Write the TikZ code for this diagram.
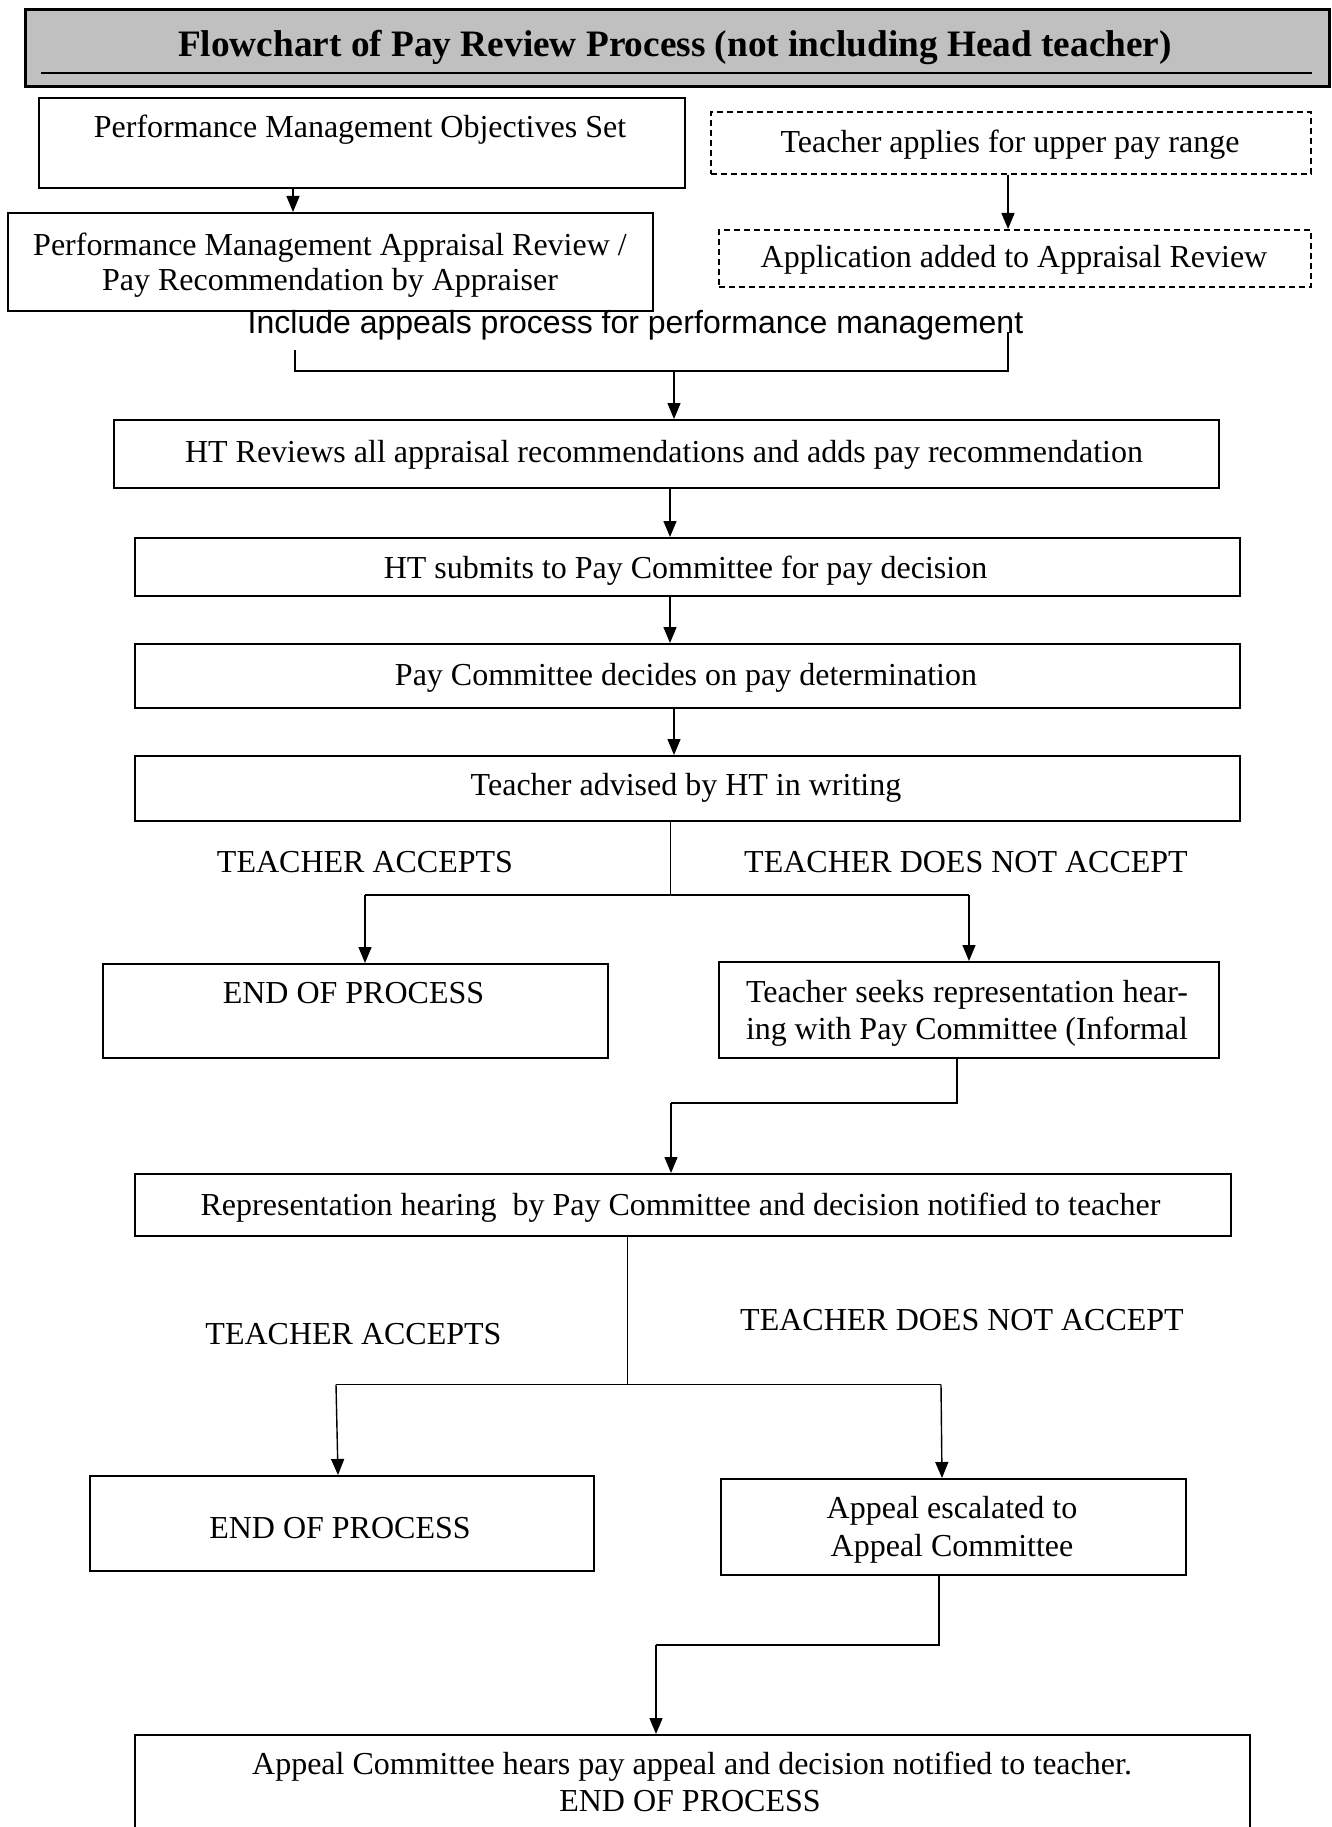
\documentclass[tikz,border=0pt]{standalone}
\usepackage{fontspec}
\setmainfont{Liberation Serif}
\newfontfamily\arialf{Liberation Sans}
\usetikzlibrary{arrows.meta}
\begin{document}
\begin{tikzpicture}[x=1pt,y=-1pt,
  box/.style={draw, line width=2.1pt, rectangle, inner sep=0pt, anchor=north west},
  dbox/.style={draw, line width=1.6pt, dash pattern=on 6pt off 4pt, rectangle, inner sep=0pt, anchor=north west},
  txt/.style={font=\fontsize{32}{36.5}\selectfont, inner sep=0pt, anchor=base},
  conn/.style={line width=1.4pt},
  arr/.style={line width=1.4pt, -{Triangle[length=16pt,width=13pt]}},
]
\useasboundingbox (0,0) rectangle (1332,1827);
\clip (0,0) rectangle (1332,1827);

% title
\node[box, line width=2.6pt, fill={rgb,255:red,192;green,192;blue,192}, minimum width=1304pt, minimum height=77pt] (title) at (24,8) {};
\draw[line width=2.6pt] (41,73) -- (1312,73);
\node[txt, font=\bfseries\fontsize{37.3}{44}\selectfont] (title-t) at (675,57) {Flowchart of Pay Review Process (not including Head teacher)};

% boxes
\node[box, minimum width=646pt, minimum height=90pt] (b1) at (38,97) {};
\node[dbox, minimum width=600pt, minimum height=62pt] (d1) at (710,111) {};
\node[box, minimum width=645pt, minimum height=98pt] (b2) at (7,212) {};
\node[dbox, minimum width=592pt, minimum height=57pt] (d2) at (718,229) {};
\node[box, minimum width=1105pt, minimum height=68pt] (b3) at (113,419) {};
\node[box, minimum width=1105pt, minimum height=58pt] (b4) at (134,537) {};
\node[box, minimum width=1105pt, minimum height=64pt] (b5) at (134,643) {};
\node[box, minimum width=1105pt, minimum height=65pt] (b6) at (134,755) {};
\node[box, minimum width=505pt, minimum height=94pt] (b7) at (102,963) {};
\node[box, minimum width=500pt, minimum height=96pt] (b8) at (718,961) {};
\node[box, minimum width=1096pt, minimum height=62pt] (b9) at (134,1173) {};
\node[box, minimum width=504pt, minimum height=95pt] (b10) at (89,1475) {};
\node[box, minimum width=465pt, minimum height=96pt] (b11) at (720,1478) {};
\node[box, minimum width=1115pt, minimum height=200pt] (b12) at (134,1734) {};

% texts
\node[txt] (b1-t) at (360,138) {Performance Management Objectives Set};
\node[txt] (d1-t) at (1010,153) {Teacher applies for upper pay range};
\node[txt] (b2-t1) at (330,255) {Performance Management Appraisal Review /};
\node[txt] (b2-t2) at (330,290) {Pay Recommendation by Appraiser};
\node[txt] (d2-t) at (1014,268) {Application added to Appraisal Review};
\node[txt, font=\arialf\fontsize{32}{36}\selectfont] (inc-t) at (635.5,333) {Include appeals process for performance management};
\node[txt] (b3-t) at (664,462) {HT Reviews all appraisal recommendations and adds pay recommendation};
\node[txt] (b4-t) at (685.5,578) {HT submits to Pay Committee for pay decision};
\node[txt] (b5-t) at (686,685) {Pay Committee decides on pay determination};
\node[txt] (b6-t) at (686,795) {Teacher advised by HT in writing};
\node[txt] (acc1) at (365,872.6) {TEACHER ACCEPTS};
\node[txt] (nacc1) at (966,872.6) {TEACHER DOES NOT ACCEPT};
\node[txt] (b7-t) at (353.5,1003.6) {END OF PROCESS};
\node[txt] (b8-t1) at (967,1002) {\makebox[442pt][s]{Teacher seeks representation hear-}};
\node[txt] (b8-t2) at (967,1039) {\makebox[442pt][s]{ing with Pay Committee (Informal}};
\node[txt] (b9-t) at (680.5,1215) {Representation hearing \ by Pay Committee and decision notified to teacher};
\node[txt] (acc2) at (353.5,1344) {TEACHER ACCEPTS};
\node[txt] (nacc2) at (962,1330.5) {TEACHER DOES NOT ACCEPT};
\node[txt] (b10-t) at (340,1538.4) {END OF PROCESS};
\node[txt] (b11-t1) at (952,1518) {Appeal escalated to};
\node[txt] (b11-t2) at (952,1556) {Appeal Committee};
\node[txt] (b12-t1) at (692,1774) {Appeal Committee hears pay appeal and decision notified to teacher.};
\node[txt] (b12-t2) at (690,1811) {END OF PROCESS};

% connectors top
\draw[arr] (293,0 |- b1.south) -- (293,0 |- b2.north);
\draw[arr] (1008,0 |- d1.south) -- (1008,0 |- d2.north);

\coordinate (brL) at (295,350);
\coordinate (brR) at (1008,332);
\coordinate (brJ) at (674,371);
\draw[conn] (brL) |- (brJ) -| (brR);
\draw[arr] (brJ) -- (674,0 |- b3.north);
\draw[arr] (670,0 |- b3.south) -- (670,0 |- b4.north);
\draw[arr] (670,0 |- b4.south) -- (670,0 |- b5.north);
\draw[arr] (674,0 |- b5.south) -- (674,0 |- b6.north);

% first split
\coordinate (s1) at (670,895);
\coordinate (s1L) at (365,895);
\coordinate (s1R) at (969,895);
\draw[line width=1pt] (670,0 |- b6.south) -- (s1);
\draw[conn] (s1L) -- (s1R);
\draw[arr] (s1L) -- (365,0 |- b7.north);
\draw[arr] (s1R) -- (969,0 |- b8.north);

% b8 -> b9
\coordinate (k1) at (957,1103);
\coordinate (k2) at (671,1103);
\draw[conn] (957,0 |- b8.south) -- (k1) -- (k2);
\draw[arr] (k2) -- (671,0 |- b9.north);

% second split
\coordinate (s2) at (627,1384.5);
\coordinate (s2L) at (336,1384.5);
\coordinate (s2R) at (941,1384.5);
\draw[line width=1pt] (627,0 |- b9.south) -- (s2);
\draw[conn] (s2L) -- (s2R);
\draw[arr] (s2L) -- (338,0 |- b10.north);
\draw[arr] (s2R) -- (942,0 |- b11.north);

% b11 -> b12
\coordinate (k3) at (939,1645);
\coordinate (k4) at (656,1645);
\draw[conn] (939,0 |- b11.south) -- (k3) -- (k4);
\draw[arr] (k4) -- (656,0 |- b12.north);
\end{tikzpicture}
\end{document}
